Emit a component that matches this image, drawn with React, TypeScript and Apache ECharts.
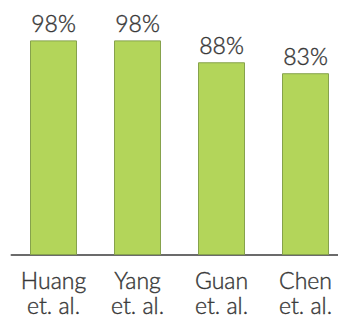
import React, { useEffect, useRef } from "react";
import * as echarts from "echarts";

const categories = ["Huang\net. al.", "Yang\net. al.", "Guan\net. al.", "Chen\net. al."];
const values = [98, 98, 88, 83];

export default function App() {
  const ref = useRef<HTMLDivElement>(null);
  useEffect(() => {
    const chart = echarts.init(ref.current!, null, { renderer: "svg" });
    chart.setOption({
      animation: false,
      grid: { left: 11.5, width: 336, top: 36, bottom: 66, containLabel: false, outerBoundsMode: "none" },
      xAxis: {
        type: "category",
        data: categories,
        axisTick: { show: false },
        axisLine: { lineStyle: { color: "#6b6b6b", width: 2 } },
        axisLabel: {
          color: "#383838",
          fontFamily: "Lato",
          fontWeight: 300,
          fontSize: 23,
          lineHeight: 25,
          margin: 12,
          interval: 0,
          hideOverlap: false,
          textBorderColor: "#383838",
          textBorderWidth: 0.4,
        },
      },
      yAxis: {
        type: "value",
        min: 0,
        max: 100,
        show: false,
        splitLine: { show: false },
      },
      series: [
        {
          type: "bar",
          data: values,
          barWidth: 47,
          itemStyle: { color: "#b3d55a", borderColor: "#86a24c", borderWidth: 1 },
          label: {
            show: true,
            position: "top",
            distance: 6,
            formatter: "{c}%",
            color: "#383838",
            fontFamily: "Lato",
            fontWeight: 300,
            fontSize: 23,
            textBorderColor: "#383838",
            textBorderWidth: 0.4,
          },
        },
      ],
    });
    return () => chart.dispose();
  }, []);
  return <div ref={ref} style={{ width: 338, height: 321, position: "absolute", left: 0, top: 0 }} />;
}
